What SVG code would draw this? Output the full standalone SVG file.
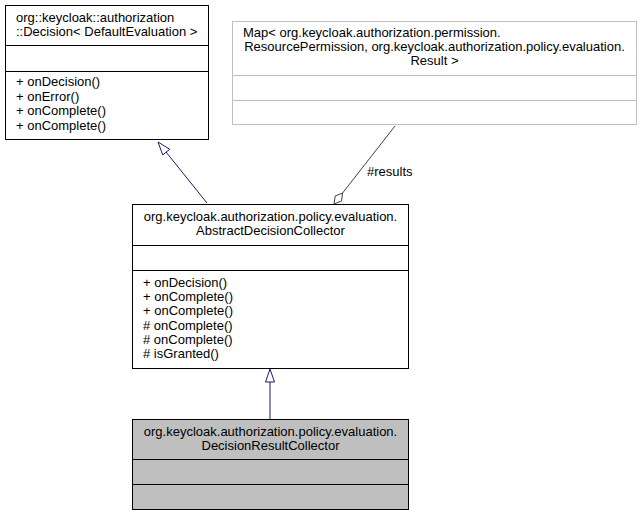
<svg xmlns="http://www.w3.org/2000/svg" width="643" height="516" viewBox="0 0 643 516">
<style>
text{font-family:"Liberation Sans",Arial,sans-serif;font-size:13px;fill:#000}
.c{text-anchor:middle}
.box{fill:#fff;stroke:#000;stroke-width:1}
.gbox{fill:#fff;stroke:#bfbfbf;stroke-width:1}
.sel{fill:#bfbfbf;stroke:#000;stroke-width:1}
.inh{stroke:#191970;stroke-width:1;fill:none}
.inhh{stroke:#191970;stroke-width:1;fill:#fff}
.agg{stroke:#404040;stroke-width:1;fill:none}
.aggh{stroke:#404040;stroke-width:1;fill:#fff}
</style>
<rect width="643" height="516" fill="#fff"/>
<g id="connectors">
<line class="inh" x1="207" y1="203" x2="166" y2="152"/>
<polygon class="inhh" points="158,142 169.7,149.3 162.7,154.9"/>
<line class="inh" x1="270" y1="419" x2="270" y2="382"/>
<polygon class="inhh" points="270,369 274.5,382 265.5,382"/>
<line class="agg" x1="395" y1="126" x2="342.6" y2="193"/>
<polygon class="aggh" points="334,204 335.2,196 342.6,193 341.5,201"/>
<text x="367" y="176">#results</text>
</g>
<g id="node_decision">
<rect class="box" x="5.5" y="5.5" width="203" height="134"/>
<line class="box" x1="5.5" y1="45.5" x2="208.5" y2="45.5"/>
<line class="box" x1="5.5" y1="71.5" x2="208.5" y2="71.5"/>
<text x="16" y="22">org::keycloak::authorization</text>
<text x="16" y="36">::Decision&lt; DefaultEvaluation &gt;</text>
<text x="16" y="86">+ onDecision()</text>
<text x="16" y="100.5">+ onError()</text>
<text x="16" y="115">+ onComplete()</text>
<text x="16" y="129.5">+ onComplete()</text>
</g>
<g id="node_map">
<rect class="gbox" x="232.5" y="21.5" width="404" height="103"/>
<line class="gbox" x1="232.5" y1="75.5" x2="636.5" y2="75.5"/>
<line class="gbox" x1="232.5" y1="100.5" x2="636.5" y2="100.5"/>
<text x="243" y="36.5">Map&lt; org.keycloak.authorization.permission.</text>
<text class="c" x="434.5" y="50.5">ResourcePermission, org.keycloak.authorization.policy.evaluation.</text>
<text class="c" x="434.5" y="64.5">Result &gt;</text>
</g>
<g id="node_abstract">
<rect class="box" x="132.5" y="204.5" width="276" height="164"/>
<line class="box" x1="132.5" y1="245.5" x2="408.5" y2="245.5"/>
<line class="box" x1="132.5" y1="270.5" x2="408.5" y2="270.5"/>
<text class="c" x="270.5" y="220.5">org.keycloak.authorization.policy.evaluation.</text>
<text class="c" x="270.5" y="234.5">AbstractDecisionCollector</text>
<text x="143" y="286.7">+ onDecision()</text>
<text x="143" y="301">+ onComplete()</text>
<text x="143" y="315.3">+ onComplete()</text>
<text x="143" y="329.6">#  onComplete()</text>
<text x="143" y="344">#  onComplete()</text>
<text x="143" y="358.3">#  isGranted()</text>
</g>
<g id="node_result">
<rect class="sel" x="132.5" y="419.5" width="276" height="90"/>
<line class="sel" x1="132.5" y1="459.5" x2="408.5" y2="459.5"/>
<line class="sel" x1="132.5" y1="484.5" x2="408.5" y2="484.5"/>
<text class="c" x="270.5" y="435.5">org.keycloak.authorization.policy.evaluation.</text>
<text class="c" x="270.5" y="449.5">DecisionResultCollector</text>
</g>
</svg>
